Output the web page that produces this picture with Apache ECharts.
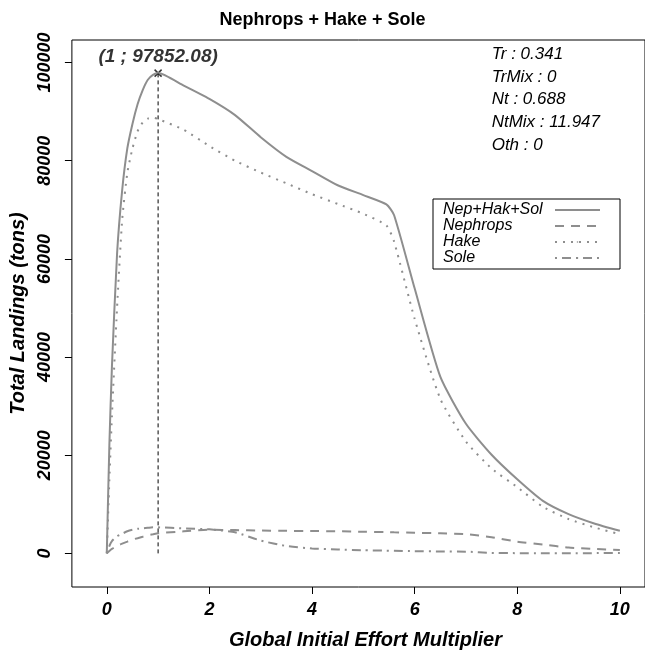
<!DOCTYPE html>
<html>
<head>
<meta charset="utf-8">
<script src="https://cdn.jsdelivr.net/npm/echarts@6/dist/echarts.min.js"></script>
<style>
  html, body { margin: 0; padding: 0; background: #fff; }
  #chart { width: 645px; height: 655px; }
</style>
</head>
<body>
<div id="chart"></div>
<script>
// effort multiplier (x)
const effortMult = [0, 0.05, 0.1, 0.2, 0.3, 0.4, 0.5, 0.6, 0.7, 0.8, 0.9, 1,
  1.5, 2, 2.5, 3, 3.5, 4, 4.5, 5, 5.45, 5.6, 6, 6.5, 7, 7.5, 8, 8.5, 9, 9.5, 10];

// landings (tons)
const totalLand = [0, 22000, 38000, 61000, 74000, 82500, 87500, 91500, 94400, 96500, 97500, 97852.08,
  95300, 92600, 89300, 84800, 80800, 77900, 75000, 73000, 71100, 68900, 54000, 36000, 26400, 20100, 15100, 10700, 8000, 6100, 4600];
const nephLand = [0, 500, 900, 1500, 2000, 2400, 2800, 3100, 3400, 3700, 3900, 4100,
  4500, 4800, 4750, 4650, 4600, 4550, 4500, 4400, 4350, 4300, 4200, 4100, 3900, 3300, 2400, 1800, 1200, 900, 700];
const hakeLand = [0, 15000, 28000, 50000, 68000, 77500, 82500, 86000, 87800, 88600, 88800, 88500,
  86300, 83000, 80000, 77600, 75400, 73200, 71200, 69200, 66800, 63500, 47800, 31500, 22800, 17300, 13500, 9500, 7000, 5300, 3900];
const soleLand = [0, 1500, 2500, 3500, 4000, 4500, 4800, 5000, 5100, 5200, 5300, 5300,
  5100, 4900, 4300, 2600, 1500, 1000, 800, 650, 560, 520, 450, 400, 350, 100, 50, 50, 50, 50, 100];

const seriesNames = ['Nep+Hak+Sol', 'Nephrops', 'Hake', 'Sole'];
const xTicks = [0, 2, 4, 6, 8, 10];
const yTicks = [0, 20000, 40000, 60000, 80000, 100000];

const peak = [1, 97852.08];
const paramLines = ['Tr : 0.341', 'TrMix : 0', 'Nt : 0.688', 'NtMix : 11.947', 'Oth : 0'];

const FONT = '"Liberation Sans", Arial, sans-serif';
const GREY = '#8e8e8e';

function pairs(ys) {
  return effortMult.map((x, i) => [x, ys[i]]);
}

const chart = echarts.init(document.getElementById('chart'));

const lineBase = { type: 'line', symbol: 'none', smooth: 0.2 };

const option = {
  animation: false,
  backgroundColor: '#fff',
  title: {
    text: 'Nephrops + Hake + Sole',
    left: 'center',
    top: 6,
    textStyle: { fontFamily: FONT, fontSize: 18, fontWeight: 'bold', color: '#000' }
  },
  grid: {
    left: 70, top: 40, bottom: 67, right: 0,
    show: true, borderColor: '#000', borderWidth: 1, backgroundColor: 'transparent'
  },
  legend: {
    data: seriesNames,
    orient: 'vertical',
    left: 433, top: 199,
    align: 'right',
    itemWidth: 45, itemHeight: 2,
    itemGap: 0,
    padding: [3, 19, 3, 10],
    borderColor: '#000', borderWidth: 1,
    formatter: name => '{t|' + name + '}',
    textStyle: {
      fontFamily: FONT, fontSize: 16, fontStyle: 'italic', color: '#000', lineHeight: 16,
      rich: { t: { width: 107, align: 'left', fontFamily: FONT, fontSize: 16, fontStyle: 'italic', color: '#000', lineHeight: 16 } }
    }
  },
  xAxis: {
    type: 'value',
    min: -0.68, max: 10.49,
    name: 'Global Initial Effort Multiplier',
    nameLocation: 'middle',
    nameGap: 43,
    nameTextStyle: { fontFamily: FONT, fontSize: 20, fontWeight: 'bold', fontStyle: 'italic', color: '#000', padding: [0, 0, 0, 14] },
    axisLine: { show: false, onZero: false },
    splitLine: { show: false },
    axisTick: { show: true, length: 7, lineStyle: { color: '#000' }, customValues: xTicks },
    axisLabel: {
      customValues: xTicks, margin: 14,
      fontFamily: FONT, fontSize: 18, fontWeight: 'bold', fontStyle: 'italic', color: '#000'
    }
  },
  yAxis: {
    type: 'value',
    min: -6850, max: 104600,
    name: 'Total Landings (tons)',
    nameLocation: 'middle',
    nameRotate: 90,
    nameGap: 42,
    nameTextStyle: { fontFamily: FONT, fontSize: 20, fontWeight: 'bold', fontStyle: 'italic', color: '#000' },
    axisLine: { show: false, onZero: false },
    splitLine: { show: false },
    axisTick: { show: true, length: 7, lineStyle: { color: '#000' }, customValues: yTicks },
    axisLabel: {
      customValues: yTicks, rotate: 90, margin: 18,
      formatter: v => String(v),
      fontFamily: FONT, fontSize: 18, fontWeight: 'bold', fontStyle: 'italic', color: '#000'
    }
  },
  graphic: [{
    type: 'text',
    right: 45, top: 43,
    style: {
      text: paramLines.join('\n'),
      align: 'right',
      lineHeight: 22.7,
      font: 'italic 17px "Liberation Sans", Arial, sans-serif',
      fill: '#000'
    }
  }],
  series: [
    Object.assign({}, lineBase, {
      name: seriesNames[0], data: pairs(totalLand),
      lineStyle: { color: GREY, width: 2 }, itemStyle: { color: GREY }
    }),
    Object.assign({}, lineBase, {
      name: seriesNames[1], data: pairs(nephLand),
      lineStyle: { color: GREY, width: 2, type: [9, 7] }, itemStyle: { color: GREY }
    }),
    Object.assign({}, lineBase, {
      name: seriesNames[2], data: pairs(hakeLand),
      lineStyle: { color: GREY, width: 2, type: [2, 6] }, itemStyle: { color: GREY }
    }),
    Object.assign({}, lineBase, {
      name: seriesNames[3], data: pairs(soleLand),
      lineStyle: { color: GREY, width: 2, type: [2, 5, 9, 5] }, itemStyle: { color: GREY }
    }),
    {
      // vertical guide at the maximum
      type: 'line', data: [[peak[0], 0], peak], symbol: 'none', silent: true,
      lineStyle: { color: '#000', width: 1, type: [4, 3] }
    },
    {
      type: 'scatter', data: [peak], silent: true,
      symbol: 'path://M0,0L10,10M10,0L0,10', symbolSize: 7,
      itemStyle: { color: '#000', borderColor: '#000', borderWidth: 1.5 },
      label: {
        show: true, position: 'top', distance: 3,
        formatter: '(' + peak[0] + ' ; ' + peak[1].toFixed(2) + ')',
        fontFamily: FONT, fontSize: 19, fontWeight: 'bold', fontStyle: 'italic', color: '#000'
      }
    }
  ]
};

chart.setOption(option);
</script>
</body>
</html>
